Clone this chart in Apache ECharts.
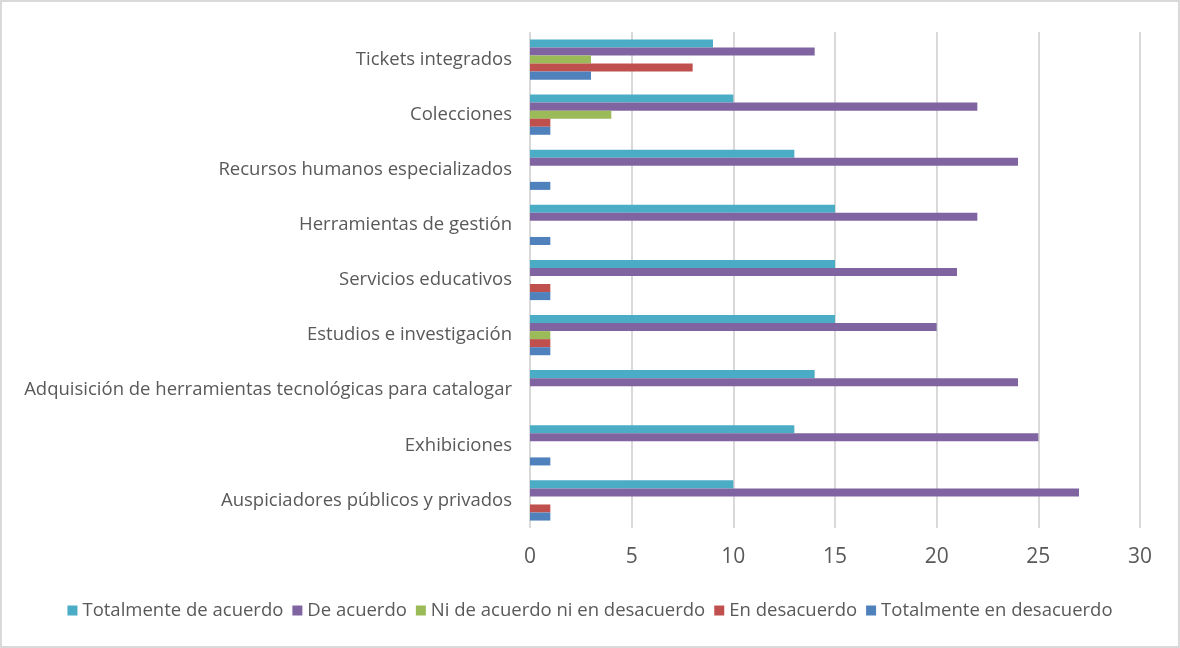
<!DOCTYPE html>
<html><head><meta charset="utf-8">
<script src="https://cdn.jsdelivr.net/npm/echarts@6/dist/echarts.min.js"></script>
<style>html,body{margin:0;padding:0;background:#fff}#c{width:1180px;height:648px;box-sizing:border-box;border:2px solid #d9d9d9}</style>
</head><body><div id="c"></div>
<script>
const categories = ["Auspiciadores públicos y privados","Exhibiciones","Adquisición de herramientas tecnológicas para catalogar","Estudios e investigación","Servicios educativos","Herramientas de gestión","Recursos humanos especializados","Colecciones","Tickets integrados"];
const seriesNames = ["Totalmente de acuerdo","De acuerdo","Ni de acuerdo ni en desacuerdo","En desacuerdo","Totalmente en desacuerdo"];
const totalmenteDeAcuerdo = [10,13,14,15,15,15,13,10,9];
const deAcuerdo = [27,25,24,20,21,22,24,22,14];
const niDeAcuerdo = [0,0,0,1,0,0,0,4,3];
const enDesacuerdo = [1,0,0,1,1,0,0,1,8];
const totalmenteEnDesacuerdo = [1,1,0,1,1,1,1,1,3];
const xTicks = [0,5,10,15,20,25,30];
const colors = ["#4BACC6","#8064A2","#9BBB59","#C0504D","#4F81BD"];
const values = [totalmenteDeAcuerdo, deAcuerdo, niDeAcuerdo, enDesacuerdo, totalmenteEnDesacuerdo];
const font = "'Open Sans', sans-serif";
const chart = echarts.init(document.getElementById('c'));
chart.setOption({
  animation:false,
  textStyle:{fontFamily:font},
  grid:{left:528,right:38,top:30,bottom:118,containLabel:false},
  legend:{bottom:21,left:'center',itemWidth:10,itemHeight:10,itemGap:9,icon:'rect',
    textStyle:{color:'#595959',fontSize:18.5,fontFamily:font},data:seriesNames},
  xAxis:{type:'value',min:0,max:30,interval:5,
    axisLine:{show:false},axisTick:{show:false},
    splitLine:{lineStyle:{color:'#d9d9d9',width:2}},
    axisLabel:{color:'#595959',fontSize:21,margin:19,fontFamily:font,
      formatter:v=>xTicks.includes(v)?String(v):''}},
  yAxis:{type:'category',data:categories,
    axisLine:{show:false},axisTick:{show:false},
    axisLabel:{color:'#595959',fontSize:18.5,margin:18,fontFamily:font}},
  series: seriesNames.map((n,i)=>({name:n,type:'bar',data:values[i],barGap:'0%',barCategoryGap:'27%',
    itemStyle:{color:colors[i]}}))
});
</script></body></html>
